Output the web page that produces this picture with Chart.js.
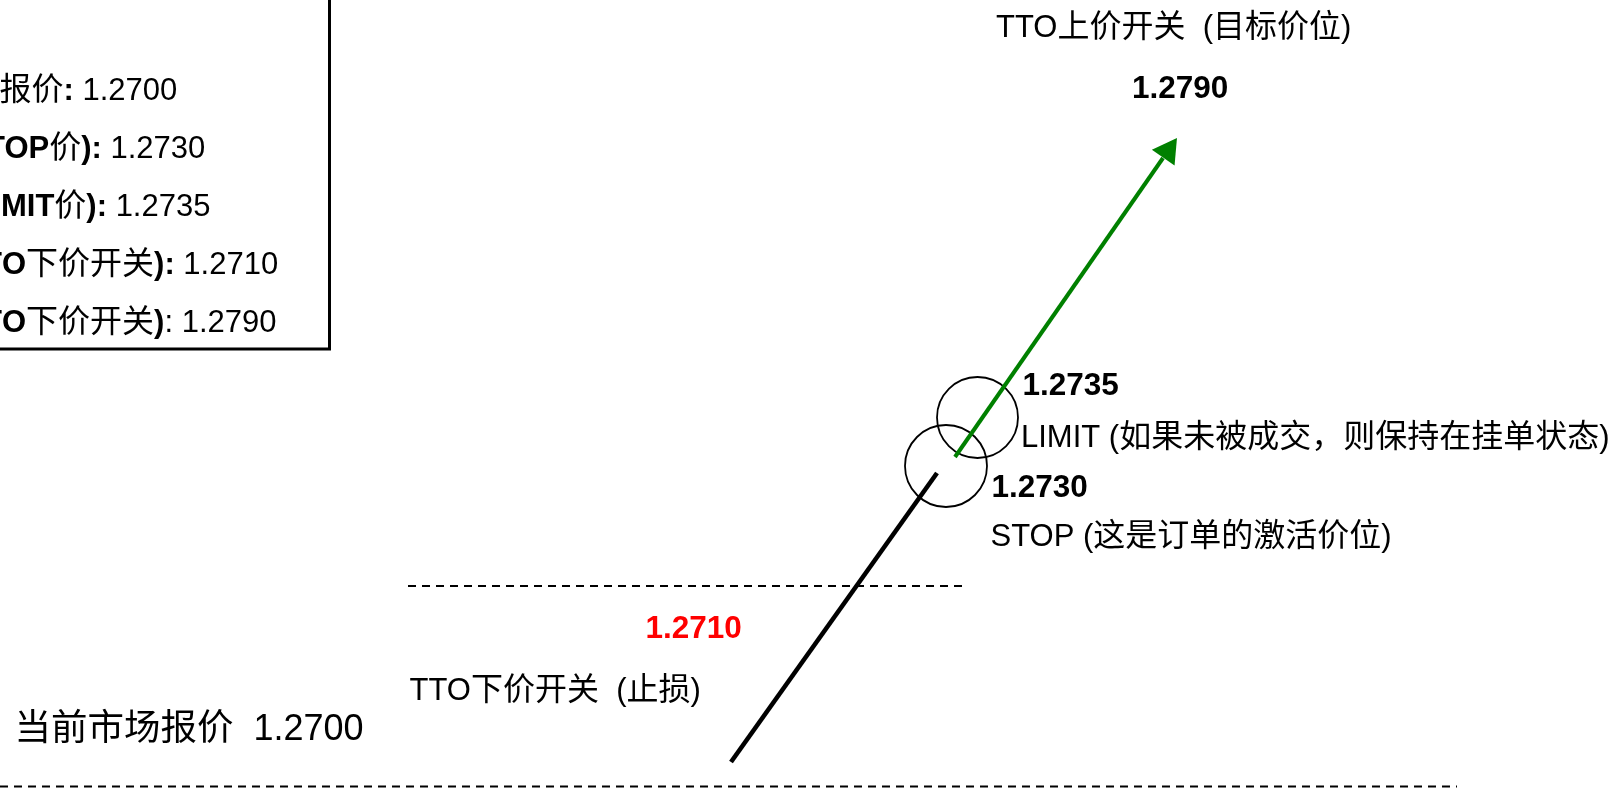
<!DOCTYPE html>
<html>
<head>
<meta charset="utf-8">
<script src="https://cdn.jsdelivr.net/npm/chart.js@4.4.1/dist/chart.umd.min.js"></script>
<style>
html,body{margin:0;padding:0;background:#ffffff;}
#wrap{width:1620px;height:788px;position:relative;}
</style>
</head>
<body>
<div id="wrap"><canvas id="c"></canvas></div>
<script>
// ===== chart values =====
const levelNames  = ['当前市场报价', 'STOP', 'LIMIT', 'TTO下价开关', 'TTO上价开关'];
const levelPrices = ['1.2700', '1.2730', '1.2735', '1.2710', '1.2790'];
const levelNotes  = ['', '(这是订单的激活价位)', '(如果未被成交，则保持在挂单状态)', '(止损)', '(目标价位)'];

// ===== schematic layout (diagram units on the x / y scales) =====
const marketLevelLine = [{x: 0, y: 786.5}, {x: 1457, y: 786.5}];
const stopLossLine    = [{x: 408, y: 586}, {x: 963, y: 586}];
const priceRisePath   = [{x: 731, y: 762}, {x: 937, y: 473}];
const targetPath      = [{x: 955, y: 457}, {x: 1163, y: 158}];
const targetArrowHead = [{x: 1167.8, y: 151.1}];
const orderCircles    = [{x: 946, y: 466}, {x: 977.5, y: 417.5}];
const summaryFrame    = [{x: -30, y: 349}, {x: 329.5, y: 349}, {x: 329.5, y: -30}];

// ===== text helpers =====
function isCJK(ch){ return ch.codePointAt(0) >= 0x2E80; }
function splitRuns(runs){
  const out = [];
  runs.forEach(r => {
    for (const ch of r.t){
      const cj = isCJK(ch);
      const last = out[out.length-1];
      if (last && last.cjk === cj && last.b === !!r.b && last.col === r.col) last.t += ch;
      else out.push({t: ch, cjk: cj, b: !!r.b, col: r.col});
    }
  });
  return out;
}
function fontFor(s, size, cjkSize){
  return s.cjk ? `${cjkSize}px "Noto Sans CJK SC"` : `${s.b ? 'bold ' : ''}${size}px "Liberation Sans", "Noto Sans CJK SC"`;
}
function measureRuns(ctx, runs, size, cjkSize){
  let w = 0;
  splitRuns(runs).forEach(s => { ctx.font = fontFor(s, size, cjkSize); w += ctx.measureText(s.t).width; });
  return w;
}
function drawRuns(ctx, runs, x, y, size, cjkSize, color){
  splitRuns(runs).forEach(s => {
    ctx.font = fontFor(s, size, cjkSize);
    ctx.fillStyle = s.col || color;
    ctx.fillText(s.t, x, y);
    x += ctx.measureText(s.t).width;
  });
}

// texts: anchor x,y (diagram units); prefix runs are laid out to the left of the anchor
const texts = [
  // summary box (partly outside the view on the left)
  {x: -0.5, y: 100, size: 31, cjk: 32, prefix: [{t: '当前市场'}], runs: [{t: '报价'}, {t: ':', b: 1}, {t: ' ' + levelPrices[0]}]},
  {x: -14,  y: 158, size: 31, cjk: 32, prefix: [{t: '买入止损 (S', b: 1}], runs: [{t: 'TOP价):', b: 1}, {t: ' ' + levelPrices[1]}]},
  {x: 1,    y: 216, size: 31, cjk: 32, prefix: [{t: '买入限价 (LI', b: 1}], runs: [{t: 'MIT价):', b: 1}, {t: ' ' + levelPrices[2]}]},
  {x: 2,    y: 274, size: 31, cjk: 32, prefix: [{t: '止损 (TT', b: 1}], runs: [{t: 'O下价开关):', b: 1}, {t: ' ' + levelPrices[3]}]},
  {x: 2,    y: 332, size: 31, cjk: 32, prefix: [{t: '止盈 (TT', b: 1}], runs: [{t: 'O下价开关)', b: 1}, {t: ': ' + levelPrices[4]}]},
  // target
  {x: 996,  y: 37,  size: 31, cjk: 32, runs: [{t: levelNames[4] + '  ' + levelNotes[4]}]},
  {x: 1132, y: 98,  size: 31.5, cjk: 32, runs: [{t: levelPrices[4], b: 1}]},
  // limit
  {x: 1022.5, y: 395, size: 31.5, cjk: 32, runs: [{t: levelPrices[2], b: 1}]},
  {x: 1021, y: 447, size: 31, cjk: 32, runs: [{t: levelNames[2] + ' ' + levelNotes[2]}]},
  // stop
  {x: 991.5, y: 497, size: 31.5, cjk: 32, runs: [{t: levelPrices[1], b: 1}]},
  {x: 990.5,y: 546, size: 31, cjk: 32, runs: [{t: levelNames[1] + ' ' + levelNotes[1]}]},
  // stop loss
  {x: 645.5, y: 638, size: 31.5, cjk: 32, color: '#ff0000', runs: [{t: levelPrices[3], b: 1}]},
  {x: 409.5,y: 700, size: 31, cjk: 32, runs: [{t: levelNames[3] + '  ' + levelNotes[3]}]},
  // market
  {x: 14.5, y: 740, size: 36, cjk: 36.5, runs: [{t: levelNames[0] + '  ' + levelPrices[0]}]}
];

const textPlugin = {
  id: 'diagramTexts',
  afterDatasetsDraw(chart){
    const ctx = chart.ctx, xs = chart.scales.x, ys = chart.scales.y;
    ctx.save();
    ctx.textBaseline = 'alphabetic';
    ctx.textAlign = 'left';
    texts.forEach(t => {
      let px = xs.getPixelForValue(t.x);
      const py = ys.getPixelForValue(t.y);
      if (t.prefix){
        const pw = measureRuns(ctx, t.prefix, t.size, t.cjk);
        drawRuns(ctx, t.prefix, px - pw, py, t.size, t.cjk, t.color || '#000');
      }
      drawRuns(ctx, t.runs, px, py, t.size, t.cjk, t.color || '#000');
    });
    ctx.restore();
  }
};

const bgPlugin = {
  id: 'bg',
  beforeDraw(chart){
    const c = chart.ctx; c.save(); c.fillStyle = '#ffffff'; c.fillRect(0, 0, chart.width, chart.height); c.restore();
  }
};

new Chart(document.getElementById('c'), {
  type: 'scatter',
  data: {
    datasets: [
      {data: summaryFrame, showLine: true, borderColor: '#000', borderWidth: 3, borderJoinStyle: 'miter', pointRadius: 0, order: 3},
      {data: marketLevelLine, showLine: true, borderColor: '#000', borderWidth: 2, borderDash: [8, 6], pointRadius: 0, order: 3},
      {data: stopLossLine, showLine: true, borderColor: '#000', borderWidth: 2, borderDash: [8, 6], pointRadius: 0, order: 3},
      {data: orderCircles, showLine: false, pointStyle: 'circle', pointRadius: [41, 40.5], pointBackgroundColor: 'rgba(0,0,0,0)', pointBorderColor: '#000', pointBorderWidth: 1.8, order: 4},
      {data: priceRisePath, showLine: true, borderColor: '#000', borderWidth: 4.6, pointRadius: 0, order: 2},
      {data: targetPath, showLine: true, borderColor: '#008000', borderWidth: 4, pointRadius: 0, order: 2},
      {data: targetArrowHead, showLine: false, pointStyle: 'triangle', pointRadius: 16, pointRotation: 35, pointBackgroundColor: '#008000', pointBorderColor: '#008000', pointBorderWidth: 0, order: 1}
    ]
  },
  options: {
    responsive: true,
    maintainAspectRatio: false,
    animation: false,
    events: [],
    layout: {padding: 0, autoPadding: false},
    plugins: {legend: {display: false}, tooltip: {enabled: false}},
    scales: {
      x: {type: 'linear', min: 0, max: 1620, display: false},
      y: {type: 'linear', min: 0, max: 788, reverse: true, display: false}
    }
  },
  plugins: [bgPlugin, textPlugin]
});
</script>
</body>
</html>
